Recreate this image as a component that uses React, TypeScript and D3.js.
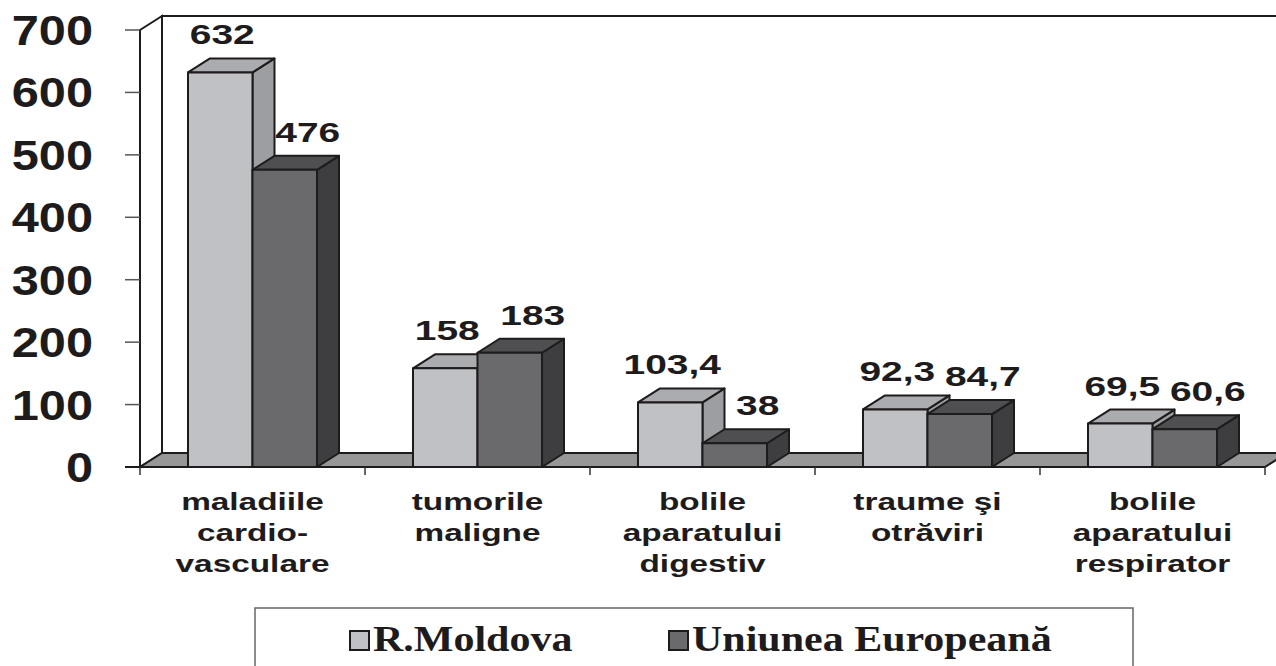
import React from "react";
import * as d3 from "d3";

// chart data
const categories = [
  ["maladiile", "cardio-", "vasculare"],
  ["tumorile", "maligne"],
  ["bolile", "aparatului", "digestiv"],
  ["traume şi", "otrăviri"],
  ["bolile", "aparatului", "respirator"],
];
const seriesNames = ["R.Moldova", "Uniunea Europeană"];
const moldova = [632, 158, 103.4, 92.3, 69.5];
const uniunea = [476, 183, 38, 84.7, 60.6];
const moldovaLabels = ["632", "158", "103,4", "92,3", "69,5"];
const uniuneaLabels = ["476", "183", "38", "84,7", "60,6"];
const yTicks = [0, 100, 200, 300, 400, 500, 600, 700];

const W = 1276;
const H = 666;
const DX = 22; // 3d depth
const DY = -14;

const fills = [
  { front: "#c0c1c5", top: "#abacb0", side: "#9d9ea2" },
  { front: "#6a6a6c", top: "#4f4f51", side: "#3e3e40" },
];
const ink = "#1e1b1c";
const sans = "Liberation Sans, Arial, sans-serif";
const serif = "Liberation Serif, Times New Roman, serif";

const App = () => {
  const y = d3.scaleLinear().domain([0, 700]).range([467, 30]);
  const x0 = d3
    .scaleBand<number>()
    .domain(d3.range(categories.length))
    .range([140, 1265])
    .padding(0);
  const x1 = d3
    .scaleBand<number>()
    .domain([0, 1])
    .range([0, x0.bandwidth()])
    .paddingInner(0)
    .paddingOuter(0.744);

  const base = y(0);
  const left = x0.range()[0];
  const right = x0.range()[1];
  const values = [moldova, uniunea];
  const labels = [moldovaLabels, uniuneaLabels];
  const labelShift = [2, 23];

  const pts = (p: number[][]) => p.map((d) => d.join(",")).join(" ");

  const bars: JSX.Element[] = [];
  const valueTexts: JSX.Element[] = [];
  categories.forEach((_, i) => {
    [0, 1].forEach((s) => {
      const v = values[s][i];
      const bx = x0(i)! + x1(s)!;
      const bw = x1.bandwidth();
      const ty = y(v);
      const c = fills[s];
      bars.push(
        <g key={`b${i}-${s}`} stroke={ink} strokeWidth={2} strokeLinejoin="round">
          <polygon
            points={pts([[bx + bw, ty], [bx + bw + DX, ty + DY], [bx + bw + DX, base + DY], [bx + bw, base]])}
            fill={c.side}
          />
          <polygon
            points={pts([[bx, ty], [bx + DX, ty + DY], [bx + bw + DX, ty + DY], [bx + bw, ty]])}
            fill={c.top}
          />
          <rect x={bx} y={ty} width={bw} height={base - ty} fill={c.front} />
        </g>
      );
      valueTexts.push(
        <text
          key={`v${i}-${s}`}
          transform={`translate(${bx + bw / 2 + labelShift[s]},${ty - 28}) scale(1.39,1)`}
          textAnchor="middle"
          fontFamily={sans}
          fontWeight="bold"
          fontSize={28}
          fill={ink}
        >
          {labels[s][i]}
        </text>
      );
    });
  });

  return (
    <svg width={W} height={H} style={{ position: "absolute", left: 0, top: 0, background: "#fff" }}>
      {/* back wall */}
      <polygon
        points={pts([[left + DX, y(700) + DY], [right + DX + 20, y(700) + DY], [right + DX + 20, base + DY], [left + DX, base + DY]])}
        fill="#fff"
        stroke={ink}
        strokeWidth={2}
      />
      {/* side wall */}
      <polygon
        points={pts([[left, y(700)], [left + DX, y(700) + DY], [left + DX, base + DY], [left, base]])}
        fill="#fff"
        stroke={ink}
        strokeWidth={2}
      />
      {/* floor */}
      <polygon
        points={pts([[left, base], [right, base], [right + DX, base + DY], [left + DX, base + DY]])}
        fill="#979797"
        stroke={ink}
        strokeWidth={2}
      />
      {/* y axis */}
      <line x1={left} x2={left} y1={y(700)} y2={base} stroke={ink} strokeWidth={2} />
      {yTicks.map((t) => (
        <g key={t}>
          <line x1={left - 15} x2={left} y1={y(t)} y2={y(t)} stroke="#555" strokeWidth={1.5} />
          <text
            transform={`translate(93,${y(t) + 15}) scale(1.16,1)`}
            textAnchor="end"
            fontFamily={sans}
            fontWeight="bold"
            fontSize={42}
            fill={ink}
          >
            {t}
          </text>
        </g>
      ))}
      {/* x axis */}
      <line x1={left - 15} x2={right} y1={base} y2={base} stroke={ink} strokeWidth={2} />
      {d3.range(categories.length + 1).map((i) => {
        const xx = i < categories.length ? x0(i)! : right;
        return <line key={`t${i}`} x1={xx} x2={xx} y1={base} y2={base + 8} stroke="#333" strokeWidth={1.5} />;
      })}
      {bars}
      {valueTexts}
      {categories.map((lines, i) => (
        <g key={`c${i}`}>
          {lines.map((ln, k) => (
            <text
              key={k}
              transform={`translate(${x0(i)! + x0.bandwidth() / 2},${510 + k * 31}) scale(1.39,1)`}
              textAnchor="middle"
              fontFamily={sans}
              fontWeight="bold"
              fontSize={24}
              fill={ink}
            >
              {ln}
            </text>
          ))}
        </g>
      ))}
      {/* legend */}
      <rect x={255} y={608} width={878} height={80} fill="#fff" stroke="#666" strokeWidth={1.5} />
      {seriesNames.map((name, s) => {
        const lx = s === 0 ? 349 : 668;
        return (
          <g key={name}>
            <rect x={lx + 1} y={631} width={19} height={19} fill={fills[s].front} stroke={ink} strokeWidth={2} />
            <text
              transform={`translate(${lx + 24},651) scale(1.2,1)`}
              fontFamily={serif}
              fontWeight="bold"
              fontSize={35}
              fill={ink}
            >
              {name}
            </text>
          </g>
        );
      })}
    </svg>
  );
};

export default App;
